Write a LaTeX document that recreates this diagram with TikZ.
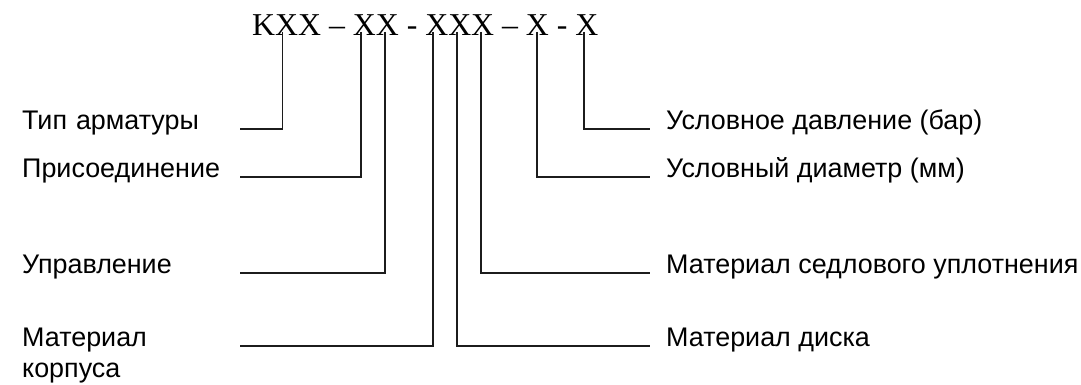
\documentclass[tikz,border=0pt]{standalone}
\usepackage{fontspec}
\setmainfont{Liberation Serif}
\setsansfont{Liberation Sans}
\usepackage{xcolor}
\usepackage{tikz}
\usetikzlibrary{positioning}
\definecolor{bk90}{HTML}{1C1C1C}
\tikzset{
  codenode/.style={
    font=\fontsize{31.8}{38}\selectfont\rmfamily,
    inner sep=0pt, anchor=base west
  },
  leftlabel/.style={
    font=\fontsize{26.9}{31.5}\selectfont\sffamily,
    text width=218pt, align=left,
    inner sep=0pt, anchor=base west
  },
  rightlabel/.style={
    font=\fontsize{26.9}{31.5}\selectfont\sffamily,
    inner xsep=16pt, inner ysep=0pt, anchor=base west
  },
  leadline/.style={line width=1.4pt, draw=bk90},
}
\begin{document}
\begin{tikzpicture}[x=1pt, y=-1pt]
\useasboundingbox (0,0) rectangle (1081,385);

% Type code
\node[codenode] (code) at (252,35.7) {KXX – XX - XXX – X - X};

% Tick points under the letters
\coordinate (t1) at (282.7,32);
\coordinate (t2) at (361,32);
\coordinate (t3) at (385,32);
\coordinate (t4) at (433,32);
\coordinate (t5) at (457,32);
\coordinate (t6) at (481,32);
\coordinate (t7) at (537,32);
\coordinate (t8) at (584,32);

% Left side
\node[leftlabel] (tip) at (22,129) {Тип арматуры};
\node[leftlabel] (prisoed) at (22,177) {Присоединение};
\node[leftlabel] (upr) at (22,273) {Управление};
\node[leftlabel] (korpus) at (22,346) {Материал\\корпуса};

% Right side
\node[rightlabel] (davl) at (650,129) {Условное давление (бар)};
\node[rightlabel] (diam) at (650,177) {Условный диаметр (мм)};
\node[rightlabel] (sedlo) at (650,273) {Материал седлового уплотнения};
\node[rightlabel] (disk) at (650,346) {Материал диска};

% Leader lines
\draw[leadline] (t1) |- (tip.base east);
\draw[leadline] (t2) |- (prisoed.base east);
\draw[leadline] (t3) |- (upr.base east);
\draw[leadline] (t4) |- (korpus.base east);
\draw[leadline] (t5) |- (disk.base west);
\draw[leadline] (t6) |- (sedlo.base west);
\draw[leadline] (t7) |- (diam.base west);
\draw[leadline] (t8) |- (davl.base west);

\end{tikzpicture}
\end{document}
